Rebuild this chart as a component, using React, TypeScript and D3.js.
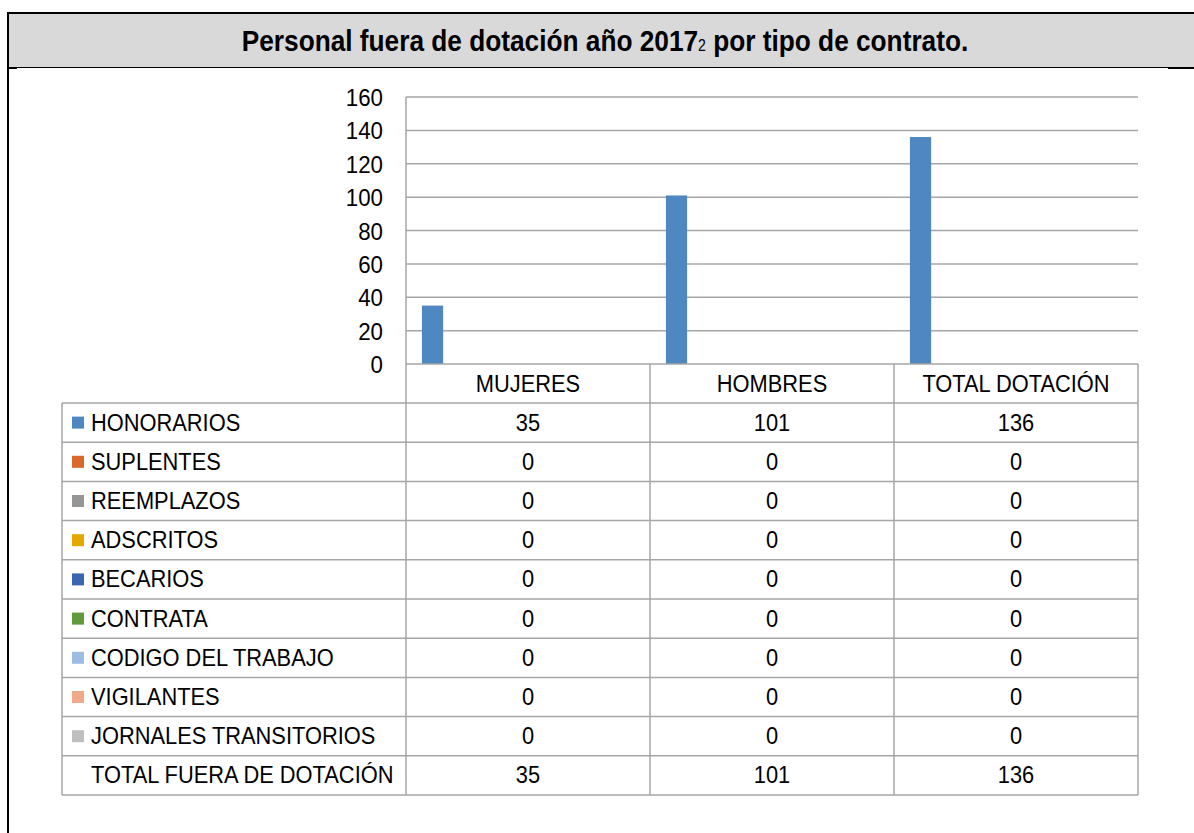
import React, { useEffect } from "react";
import * as d3 from "d3";

const categories = ["MUJERES", "HOMBRES", "TOTAL DOTACIÓN"];
const seriesNames = [
  "HONORARIOS",
  "SUPLENTES",
  "REEMPLAZOS",
  "ADSCRITOS",
  "BECARIOS",
  "CONTRATA",
  "CODIGO DEL TRABAJO",
  "VIGILANTES",
  "JORNALES TRANSITORIOS",
];
const seriesColors = [
  "#4F88C0",
  "#D9692B",
  "#969696",
  "#E5A800",
  "#3C66AF",
  "#5F9A3C",
  "#9DBCE2",
  "#F2A98A",
  "#BFBFBF",
];
const honorarios = [35, 101, 136];
const suplentes = [0, 0, 0];
const reemplazos = [0, 0, 0];
const adscritos = [0, 0, 0];
const becarios = [0, 0, 0];
const contrata = [0, 0, 0];
const codigoTrabajo = [0, 0, 0];
const vigilantes = [0, 0, 0];
const jornales = [0, 0, 0];
const totalLabel = "TOTAL FUERA DE DOTACIÓN";
const totalFuera = [35, 101, 136];
const yTicks = [0, 20, 40, 60, 80, 100, 120, 140, 160];

const seriesValues = [
  honorarios,
  suplentes,
  reemplazos,
  adscritos,
  becarios,
  contrata,
  codigoTrabajo,
  vigilantes,
  jornales,
];

// no narrow font installed, so squeeze Liberation Sans horizontally
const FONT = "'Liberation Sans', Arial, sans-serif";
const SX = 0.91;

function App() {
  const ref = React.useRef<SVGSVGElement>(null);

  useEffect(() => {
    const W = 1194, H = 833;
    const plot = { left: 406, right: 1138, top: 97, bottom: 364 };
    const tableLeft = 62;
    const headTop = 364, bodyTop = 403, rowH = 39.2;
    const grid = "#A6A6A6";

    const svg = d3.select(ref.current);
    svg.selectAll("*").remove();
    svg.attr("width", W).attr("height", H);

    const label = (x: number, y: number, txt: string | number, anchor = "middle", size = 24, sx = SX) =>
      svg.append("g")
        .attr("transform", `translate(${x},${y}) scale(${sx},1)`)
        .append("text")
        .attr("text-anchor", anchor)
        .style("font-family", FONT).style("font-size", size + "px")
        .attr("fill", "#000")
        .text(txt);

    // header box
    svg.append("rect").attr("x", 9).attr("y", 14).attr("width", W - 9).attr("height", 53).attr("fill", "#D9D9D9");
    svg.append("rect").attr("x", 7).attr("y", 12).attr("width", W - 7).attr("height", 2).attr("fill", "#000");
    svg.append("rect").attr("x", 7).attr("y", 12).attr("width", 2).attr("height", H - 12).attr("fill", "#000");
    svg.append("rect").attr("x", 9).attr("y", 67).attr("width", W - 9).attr("height", 1).attr("fill", "#000");
    svg.append("rect").attr("x", 7).attr("y", 67).attr("width", 10).attr("height", 2).attr("fill", "#000");
    svg.append("rect").attr("x", 1168).attr("y", 67).attr("width", W - 1168).attr("height", 2).attr("fill", "#000");

    const title = svg.append("g")
      .attr("transform", "translate(605,51) scale(0.875,1)")
      .append("text")
      .attr("text-anchor", "middle")
      .style("font-family", FONT).style("font-weight", "bold").style("font-size", "30px")
      .attr("fill", "#000");
    title.append("tspan").text("Personal fuera de dotación año 2017");
    title.append("tspan").text("2").style("font-size", "16px").style("font-weight", "normal");
    title.append("tspan").text(" por tipo de contrato.");

    // scales
    const x0 = d3.scaleBand().domain(categories).range([plot.left, plot.right]).padding(0);
    const x1 = d3.scaleBand()
      .domain([...seriesNames, totalLabel])
      .range([0, x0.bandwidth()])
      .paddingInner(0)
      .paddingOuter(0.75);
    const y = d3.scaleLinear().domain([0, 160]).range([plot.bottom, plot.top]);

    // gridlines
    svg.append("g").selectAll("line").data(yTicks.filter(t => t > 0)).enter().append("line")
      .attr("x1", plot.left).attr("x2", plot.right)
      .attr("y1", d => y(d)).attr("y2", d => y(d))
      .attr("stroke", grid).attr("stroke-width", 1.5);

    // y labels
    yTicks.forEach(t => label(383, y(t) + 9, t, "end", 24.5));

    // bars
    seriesValues.forEach((vals, i) => {
      svg.append("g").selectAll("rect").data(vals).enter().append("rect")
        .attr("x", (d, j) => (x0(categories[j]) as number) + (x1(seriesNames[i]) as number))
        .attr("y", d => y(d))
        .attr("width", x1.bandwidth())
        .attr("height", d => y(0) - y(d))
        .attr("fill", seriesColors[i]);
    });

    // data table
    const rows = [...seriesNames, totalLabel];
    const rowVals = [...seriesValues, totalFuera];
    const tbl = svg.append("g").attr("stroke", grid).attr("stroke-width", 1.5);
    tbl.append("line").attr("x1", plot.left).attr("x2", plot.right).attr("y1", headTop).attr("y2", headTop);
    d3.range(rows.length + 1).forEach(k => {
      const yy = bodyTop + k * rowH;
      tbl.append("line").attr("x1", tableLeft).attr("x2", plot.right).attr("y1", yy).attr("y2", yy);
    });
    const tableBottom = bodyTop + rows.length * rowH;
    tbl.append("line").attr("x1", tableLeft).attr("x2", tableLeft).attr("y1", bodyTop).attr("y2", tableBottom);
    tbl.append("line").attr("x1", plot.left).attr("x2", plot.left).attr("y1", plot.top).attr("y2", tableBottom);
    categories.forEach(c => {
      const xx = (x0(c) as number) + x0.bandwidth();
      tbl.append("line").attr("x1", xx).attr("x2", xx).attr("y1", headTop).attr("y2", tableBottom);
    });

    // category header
    categories.forEach(c => label((x0(c) as number) + x0.bandwidth() / 2, headTop + 28, c));

    rows.forEach((name, r) => {
      const cy = bodyTop + r * rowH + rowH / 2;
      if (r < seriesColors.length) {
        svg.append("rect").attr("x", 72).attr("y", cy - 6).attr("width", 12).attr("height", 12)
          .attr("fill", seriesColors[r]);
      }
      label(91, cy + 8, name, "start");
      rowVals[r].forEach((v, j) =>
        label((x0(categories[j]) as number) + x0.bandwidth() / 2, cy + 8, v));
    });

    return () => {};
  }, []);

  return <svg ref={ref} style={{ position: "absolute", left: 0, top: 0, background: "#fff" }} />;
}

export default App;
